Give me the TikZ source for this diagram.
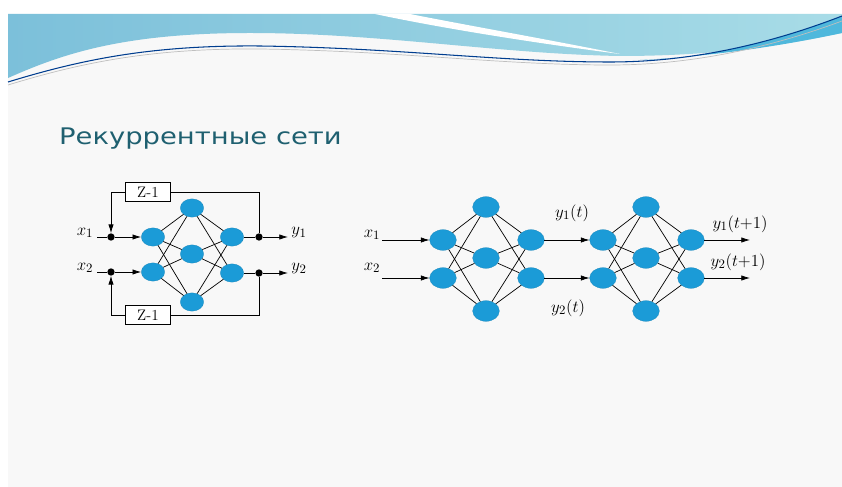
\documentclass[tikz,border=0pt]{standalone}
\usepackage{amsmath}
\usepackage{graphicx}
\usepackage{fontspec}
\newfontfamily\titlefont{DejaVu Sans}
\usepackage{tikz}
\usetikzlibrary{calc,shapes,arrows.meta,positioning}
\definecolor{nblue}{HTML}{1B9BD7}
\definecolor{ttl}{HTML}{1F6070}
\definecolor{band}{HTML}{7CC0DA}
\definecolor{bandr}{HTML}{A8DCE7}
\definecolor{banddeep}{HTML}{4FB8DC}
\definecolor{slide}{HTML}{F8F8F8}
\tikzset{
  neuron/.style={ellipse,fill=nblue,draw=nblue!85!black,line width=0.2pt,inner sep=0pt,
    minimum width=0.7cm,minimum height=0.55cm},
  bneuron/.style={neuron,minimum width=0.8cm,minimum height=0.62cm},
  link/.style={line width=0.6pt},
  sig/.style={-{Latex[length=2.6mm,width=1.6mm]},line width=0.6pt},
  dot/.style={circle,fill=black,inner sep=0pt,minimum size=0.22cm},
  delay/.style={draw,fill=white,line width=0.5pt,minimum width=1.35cm,minimum height=0.57cm,
    inner sep=1pt,font=\fontsize{13}{14}\selectfont},
  lbl/.style={font=\fontsize{15.5}{18}\selectfont}
}

\begin{document}
\begin{tikzpicture}[x=0.03cm,y=-0.03cm]
		\useasboundingbox (0,0) rectangle (842,487);
		\fill[white] (0,0) rectangle (842,487);
		\fill[slide] (8,14) rectangle (842,487);
		% wave on top of the slide
		\shade[left color=band,right color=bandr] (8,14) -- (842,14) -- (842,33)
		.. controls (790,44) and (720,56) .. (620,56)
		.. controls (500,54) and (380,33) .. (250,33)
		.. controls (120,33) and (60,55) .. (8,78) -- cycle;
		\fill[banddeep] (640,60) .. controls (720,58) and (790,36) .. (842,16)
		-- (842,33) .. controls (790,44) and (720,56) .. (640,60) -- cycle;
		\fill[white] (375,14) .. controls (450,30) and (550,45) .. (620,54)
		.. controls (540,38) and (460,24) .. (410,14) -- cycle;
		\draw[teal!60!blue!80!black,line width=0.9pt] (8,82) .. controls (80,60) and (150,45) .. (260,46)
		.. controls (400,48) and (500,62) .. (610,62) .. controls (700,62) and (780,40) .. (842,16);
		\draw[gray!50,line width=0.6pt] (8,85) .. controls (80,63) and (150,48) .. (260,49)
		.. controls (400,51) and (500,65) .. (610,65) .. controls (700,65) and (780,44) .. (842,21);

		\node[anchor=base west,text=ttl,font=\titlefont\fontsize{19.5}{22}\selectfont] (title)
		at (55,145) {\scalebox{1.2}[1]{Рекуррентные сети}};

		% left: network with feedback
		\foreach \n/\x/\y in {in1/153/237,in2/153/272,h1/192/208,h2/192/254,h3/192/302,o1/232/237,o2/232/273}
		\node[neuron] (\n) at (\x,\y) {};
		\foreach \i in {in1,in2}
		\foreach \h in {h1,h2,h3}
		\draw[link] (\i) -- (\h);
		\foreach \h in {h1,h2,h3}
		\foreach \o in {o1,o2}
		\draw[link] (\h) -- (\o);
		\node[dot] (dl1) at (111,237) {};
		\node[dot] (dl2) at (111,272) {};
		\node[dot] (dr1) at (259,237) {};
		\node[dot] (dr2) at (259,273) {};
		\node[lbl] (xl1) at (85,233) {$x_1$};
		\node[lbl] (xl2) at (85,268) {$x_2$};
		\node[lbl] (yl1) at (299,233) {$y_1$};
		\node[lbl] (yl2) at (299,269) {$y_2$};
		\coordinate (sl1) at (97,237);
		\coordinate (sl2) at (97,272);
		\coordinate (el1) at (288,237);
		\coordinate (el2) at (288,273);
		\draw[link] (sl1) -- (dl1);
		\draw[link] (sl2) -- (dl2);
		\draw[sig] (dl1) -- (in1);
		\draw[sig] (dl2) -- (in2);
		\draw[link] (o1) -- (dr1);
		\draw[link] (o2) -- (dr2);
		\draw[sig] (dr1) -- (el1);
		\draw[sig] (dr2) -- (el2);
		\node[delay] (zt) at (148,192) {Z-1};
		\node[delay] (zb) at (148,315) {Z-1};
		\draw[link] (dr1) |- (zt.east);
		\draw[sig] (zt.west) -| (dl1);
		\draw[link] (dr2) |- (zb.east);
		\draw[sig] (zb.west) -| (dl2);

		% right: the same network unrolled in time
		\foreach \p/\s in {a/0,b/160} {
			\node[bneuron] (\p i1) at (443+\s,240) {};
			\node[bneuron] (\p i2) at (443+\s,278) {};
			\node[bneuron] (\p h1) at (486+\s,207) {};
			\node[bneuron] (\p h2) at (486+\s,258) {};
			\node[bneuron] (\p h3) at (486+\s,311) {};
			\node[bneuron] (\p o1) at (531+\s,240) {};
			\node[bneuron] (\p o2) at (531+\s,278) {};
			\foreach \i in {i1,i2}
			\foreach \h in {h1,h2,h3}
			\draw[link] (\p\i) -- (\p\h);
			\foreach \h in {h1,h2,h3}
			\foreach \o in {o1,o2}
			\draw[link] (\p\h) -- (\p\o);
		}
		\coordinate (ra1) at (382,240);
		\coordinate (ra2) at (382,278);
		\coordinate (re1) at (750,240);
		\coordinate (re2) at (750,278);
		\draw[sig] (ra1) -- (ai1);
		\draw[sig] (ra2) -- (ai2);
		\draw[sig] (ao1) -- (bi1);
		\draw[sig] (ao2) -- (bi2);
		\draw[sig] (bo1) -- (re1);
		\draw[sig] (bo2) -- (re2);
		\node[lbl] (rx1) at (372,235) {$x_1$};
		\node[lbl] (rx2) at (372,268) {$x_2$};
		\node[lbl] (ry1) at (572,213) {$y_1(t)$};
		\node[lbl] (ry2) at (568,308) {$y_2(t)$};
		\node[lbl] (ry3) at (740,224) {$y_1(t{+}1)$};
		\node[lbl] (ry4) at (738,262) {$y_2(t{+}1)$};
\end{tikzpicture}
\end{document}
